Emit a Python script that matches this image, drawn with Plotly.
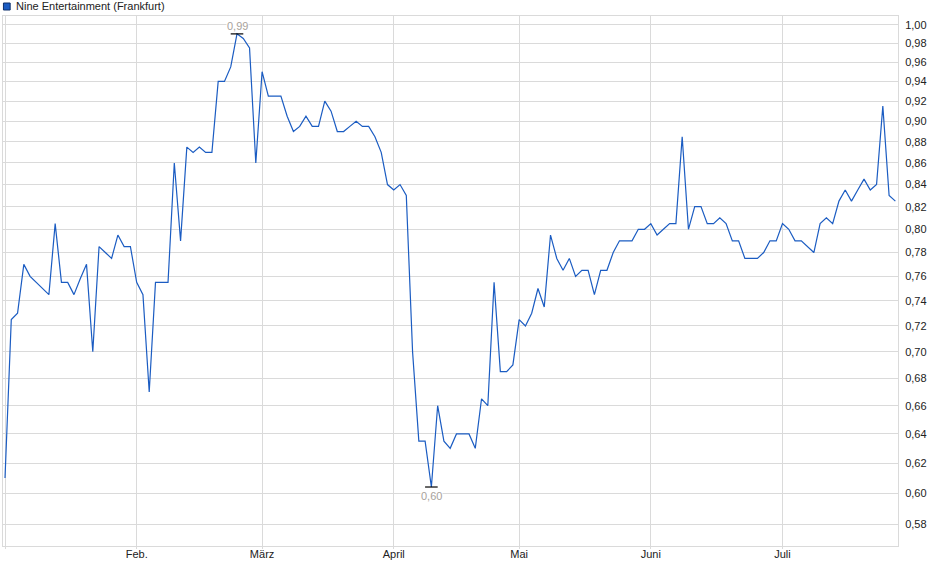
import math
import plotly.graph_objects as go

# daily closing prices (trading-day index), Nine Entertainment, Frankfurt
prices = [
    0.61, 0.725, 0.73, 0.77, 0.76, 0.755, 0.75, 0.745, 0.805, 0.755,
    0.755, 0.745, 0.758, 0.77, 0.70, 0.785, 0.78, 0.775, 0.795, 0.785,
    0.785, 0.755, 0.745, 0.67, 0.755, 0.755, 0.755, 0.86, 0.79, 0.875,
    0.87, 0.875, 0.87, 0.87, 0.94, 0.94, 0.955, 0.99, 0.985, 0.975,
    0.86, 0.95, 0.925, 0.925, 0.925, 0.905, 0.89, 0.895, 0.905, 0.895,
    0.895, 0.92, 0.91, 0.89, 0.89, 0.895, 0.90, 0.895, 0.895, 0.885,
    0.87, 0.84, 0.835, 0.84, 0.83, 0.70, 0.635, 0.635, 0.604, 0.66,
    0.635, 0.63, 0.64, 0.64, 0.64, 0.63, 0.665, 0.66, 0.755, 0.685,
    0.685, 0.69, 0.725, 0.72, 0.73, 0.75, 0.735, 0.795, 0.775, 0.765,
    0.775, 0.76, 0.765, 0.765, 0.745, 0.765, 0.765, 0.78, 0.79, 0.79,
    0.79, 0.80, 0.80, 0.805, 0.795, 0.80, 0.805, 0.805, 0.885, 0.80,
    0.82, 0.82, 0.805, 0.805, 0.81, 0.805, 0.79, 0.79, 0.775, 0.775,
    0.775, 0.78, 0.79, 0.79, 0.805, 0.80, 0.79, 0.79, 0.785, 0.78,
    0.805, 0.81, 0.805, 0.825, 0.835, 0.825, 0.835, 0.845, 0.835, 0.84,
    0.915, 0.83, 0.825,
]
days = list(range(len(prices)))

month_pos = [0, 21, 41, 62, 82, 103, 124]
month_labels = ["", "Feb.", "März", "April", "Mai", "Juni", "Juli"]

y_ticks = [0.58, 0.60, 0.62, 0.64, 0.66, 0.68, 0.70, 0.72, 0.74, 0.76, 0.78,
           0.80, 0.82, 0.84, 0.86, 0.88, 0.90, 0.92, 0.94, 0.96, 0.98, 1.00]
y_labels = [f"{v:.2f}".replace(".", ",") for v in y_ticks]

series_name = "Nine Entertainment (Frankfurt)"
blue = "#1b5cc2"
grid = "#dadada"
note_col = "#a8a29b"

hi = max(prices)
lo = min(prices)
i_hi = prices.index(hi)
i_lo = prices.index(lo)

fig = go.Figure()
fig.add_trace(go.Scatter(x=days, y=prices, mode="lines",
                         line=dict(color=blue, width=1.2),
                         name=series_name, showlegend=False))
# high / low markers
fig.add_trace(go.Scatter(x=[days[i_hi], days[i_lo]], y=[hi, lo], mode="markers",
                         marker=dict(symbol="line-ew", size=9,
                                     line=dict(color="black", width=1.2)),
                         showlegend=False, hoverinfo="skip"))

# high / low labels (log axis -> y in log10 units)
fig.add_annotation(x=days[i_hi], y=math.log10(hi), xref="x", yref="y",
                   text=f"{round(hi, 2):.2f}".replace(".", ","),
                   showarrow=False, font=dict(size=11, color=note_col),
                   bgcolor="white", borderpad=0, yanchor="bottom", yshift=1)
fig.add_annotation(x=days[i_lo], y=math.log10(lo), xref="x", yref="y",
                   text=f"{round(lo, 2):.2f}".replace(".", ","),
                   showarrow=False, font=dict(size=11, color=note_col),
                   bgcolor="white", borderpad=0, yanchor="top", yshift=-2)

# legend box drawn by hand (top left)
fig.add_shape(type="rect", xref="paper", yref="paper",
              x0=0.0005, x1=0.008, y0=1.0113, y1=1.0245,
              fillcolor=blue, line=dict(color="#0d2f6b", width=1))
fig.add_annotation(x=0.0123, y=1.018, xref="paper", yref="paper",
                   text=series_name, showarrow=False, xanchor="left",
                   yanchor="middle", font=dict(size=11, color="#222222"))

fig.update_layout(
    width=940, height=579,
    margin=dict(l=3, r=42, t=16, b=33, autoexpand=False),
    paper_bgcolor="white", plot_bgcolor="white",
    font=dict(family="Liberation Sans, Arial, sans-serif", size=11, color="#222222"),
    showlegend=False,
    xaxis=dict(range=[-0.32, 142.42], tickvals=month_pos, ticktext=month_labels,
               showgrid=True, gridcolor=grid, gridwidth=1, zeroline=False,
               showline=True, linecolor=grid, mirror=True, automargin=False,
               ticks="outside", ticklen=2, tickcolor=grid, ticklabelstandoff=-4),
    yaxis=dict(type="log", range=[-0.2469, 0.00411], side="right",
               tickvals=y_ticks, ticktext=y_labels,
               showgrid=True, gridcolor=grid, gridwidth=1, zeroline=False,
               showline=True, linecolor=grid, mirror=True, automargin=False,
               ticks="", ticklabelstandoff=4),
)

# page body has a default 8px margin; drop it so the figure fills the window
fig.write_html("out.html", config={"displayModeBar": False},
               post_script="document.body.style.margin='0';")
